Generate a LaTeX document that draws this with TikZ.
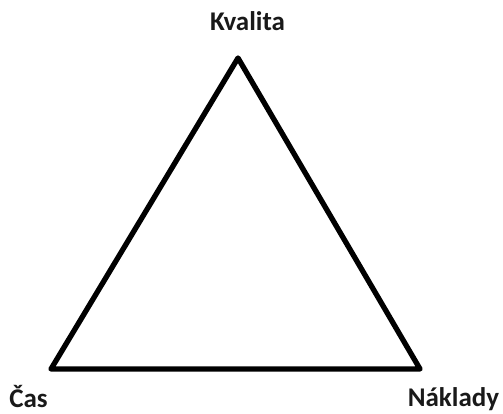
\documentclass[tikz,border=0pt]{standalone}
\usepackage{fontspec}
\setmainfont{Carlito}
\usepackage{tikz}
\usetikzlibrary{positioning}

\begin{document}
\begin{tikzpicture}[
  x=1pt, y=-1pt,
  label/.style={font=\fontsize{27}{31}\selectfont\bfseries, inner sep=0pt, anchor=base, text=black!90},
  side/.style={line width=5.3pt, line join=round}
]
  \useasboundingbox (0,0) rectangle (503,414);

  % Corners
  \coordinate (top) at (238,58);
  \coordinate (left) at (51,369);
  \coordinate (right) at (420,369);

  % Labels
  \node[label] (kvalita) at (247.5,31) {Kvalita};
  \node[label] (cas) at (28.5,407) {Čas};
  \node[label] (naklady) at (453.5,406.5) {Náklady};

  % Triangle
  \draw[side] (top) -- (left) -- (right) -- cycle;
\end{tikzpicture}
\end{document}
